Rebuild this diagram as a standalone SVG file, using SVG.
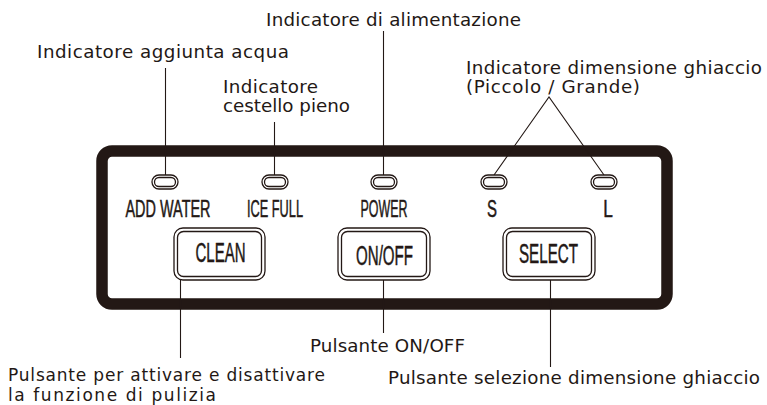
<svg xmlns="http://www.w3.org/2000/svg" width="767" height="405" viewBox="0 0 767 405">
  <style>
    .lbl { font-family: "DejaVu Sans", "Noto Sans", sans-serif; font-size: 18.3px; fill: #231815; }
    .lbs { font-size: 17px; }
    .pl { font-family: "Liberation Sans", Arial, sans-serif; font-size: 23px; fill: #231815; stroke: #231815; stroke-width: 0.5; text-anchor: middle; }
    .bt { font-family: "Liberation Sans", Arial, sans-serif; font-size: 27px; fill: #231815; stroke: #231815; stroke-width: 0.5; text-anchor: middle; }
    .ln { stroke: #231815; stroke-width: 1.1; fill: none; }
    .dbl { fill: #ffffff; stroke: #231815; stroke-width: 1.3; }
    .dbli { fill: none; stroke: #231815; stroke-width: 1.3; }
  </style>
  <rect width="767" height="405" fill="#ffffff"/>

  <g id="panel">
    <rect x="102" y="151" width="565" height="153" rx="10" ry="10" fill="#ffffff" stroke="#231815" stroke-width="11.5"/>
  </g>

  <g id="connectors">
    <line class="ln" x1="165.5" y1="68" x2="165.5" y2="175"/>
    <line class="ln" x1="274.5" y1="122" x2="274.5" y2="175"/>
    <line class="ln" x1="383.5" y1="31" x2="383.5" y2="175"/>
    <polyline class="ln" points="494,175 549,97 604,175"/>
    <line class="ln" x1="180.5" y1="280" x2="180.5" y2="358"/>
    <line class="ln" x1="383.5" y1="280" x2="383.5" y2="333"/>
    <line class="ln" x1="550.5" y1="280" x2="550.5" y2="367"/>
  </g>

  <g id="led-addwater">
    <rect class="dbl" x="152" y="175" width="26" height="14" rx="7"/>
    <rect class="dbli" x="154.5" y="177.5" width="21" height="9" rx="4.5"/>
    <text class="pl" transform="translate(168,216.5) scale(0.6,1)" textLength="141.7" lengthAdjust="spacingAndGlyphs">ADD WATER</text>
  </g>
  <g id="led-icefull">
    <rect class="dbl" x="262" y="175" width="26" height="14" rx="7"/>
    <rect class="dbli" x="264.5" y="177.5" width="21" height="9" rx="4.5"/>
    <text class="pl" transform="translate(275,216.5) scale(0.6,1)" textLength="93.3" lengthAdjust="spacingAndGlyphs">ICE FULL</text>
  </g>
  <g id="led-power">
    <rect class="dbl" x="371" y="175" width="26" height="14" rx="7"/>
    <rect class="dbli" x="373.5" y="177.5" width="21" height="9" rx="4.5"/>
    <text class="pl" transform="translate(384,216.5) scale(0.6,1)" textLength="78.3" lengthAdjust="spacingAndGlyphs">POWER</text>
  </g>
  <g id="led-s">
    <rect class="dbl" x="481" y="175" width="26" height="14" rx="7"/>
    <rect class="dbli" x="483.5" y="177.5" width="21" height="9" rx="4.5"/>
    <text class="pl" transform="translate(492,216.5) scale(0.65,1)">S</text>
  </g>
  <g id="led-l">
    <rect class="dbl" x="591" y="175" width="26" height="14" rx="7"/>
    <rect class="dbli" x="593.5" y="177.5" width="21" height="9" rx="4.5"/>
    <text class="pl" transform="translate(608,216.5) scale(0.75,1)">L</text>
  </g>

  <g id="btn-clean">
    <rect class="dbl" x="174" y="228" width="91" height="52" rx="9"/>
    <rect class="dbli" x="177.5" y="231.5" width="84" height="45" rx="6"/>
    <text class="bt" transform="translate(220.5,262) scale(0.56,1)" textLength="89.3" lengthAdjust="spacingAndGlyphs">CLEAN</text>
  </g>
  <g id="btn-onoff">
    <rect class="dbl" x="338" y="228" width="92" height="52" rx="9"/>
    <rect class="dbli" x="341.5" y="231.5" width="85" height="45" rx="6"/>
    <text class="bt" transform="translate(384.5,265) scale(0.56,1)" textLength="101.8" lengthAdjust="spacingAndGlyphs">ON/OFF</text>
  </g>
  <g id="btn-select">
    <rect class="dbl" x="503" y="228" width="92" height="52" rx="9"/>
    <rect class="dbli" x="506.5" y="231.5" width="85" height="45" rx="6"/>
    <text class="bt" transform="translate(548.5,262.5) scale(0.56,1)" textLength="105.4" lengthAdjust="spacingAndGlyphs">SELECT</text>
  </g>

  <g id="label-power">
    <text class="lbl" x="266" y="25.5" textLength="255">Indicatore di alimentazione</text>
  </g>
  <g id="label-addwater">
    <text class="lbl" x="37" y="58" textLength="252">Indicatore aggiunta acqua</text>
  </g>
  <g id="label-icefull">
    <text class="lbl" x="223" y="92.5" textLength="95">Indicatore</text>
    <text class="lbl" x="223" y="112" textLength="127">cestello pieno</text>
  </g>
  <g id="label-size">
    <text class="lbl" x="466" y="74" textLength="296">Indicatore dimensione ghiaccio</text>
    <text class="lbl" x="466" y="93" textLength="174">(Piccolo / Grande)</text>
  </g>
  <g id="label-onoff">
    <text class="lbl" x="310" y="351.5" textLength="155">Pulsante ON/OFF</text>
  </g>
  <g id="label-clean">
    <text class="lbl lbs" x="8" y="381" textLength="317">Pulsante per attivare e disattivare</text>
    <text class="lbl lbs" x="8" y="401" textLength="208">la funzione di pulizia</text>
  </g>
  <g id="label-select">
    <text class="lbl" x="388" y="384" textLength="372">Pulsante selezione dimensione ghiaccio</text>
  </g>
</svg>
